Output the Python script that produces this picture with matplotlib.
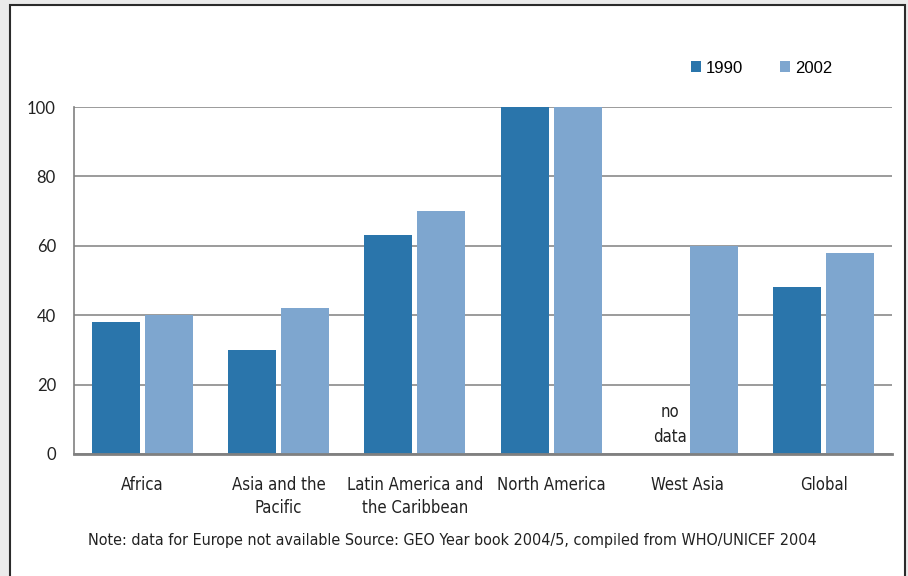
import matplotlib.pyplot as plt
import numpy as np
from matplotlib.patches import Rectangle

regions = ["Africa", "Asia and the\nPacific", "Latin America and\nthe Caribbean",
           "North America", "West Asia", "Global"]
vals_1990 = [38, 30, 63, 100, np.nan, 48]
vals_2002 = [40, 42, 70, 100, 60, 58]
y_ticks = [0, 20, 40, 60, 80, 100]
note = "Note: data for Europe not available Source: GEO Year book 2004/5, compiled from WHO/UNICEF 2004"

narrow = ['Liberation Sans Narrow', 'DejaVu Sans']

fig = plt.figure(figsize=(9.08, 5.76), dpi=100)
fig.patch.set_facecolor('#ebebeb')
# white panel with dark frame
fig.patches.append(Rectangle((10 / 908, -0.05), 895 / 908, 1 - 5 / 576 + 0.05,
                             transform=fig.transFigure, facecolor='white',
                             edgecolor='#2b2b2b', linewidth=1.5, zorder=-1))

ax = fig.add_axes([74 / 908, 1 - 454 / 576, 818 / 908, 347 / 576])
ax.set_zorder(2)
ax.set_facecolor('white')

x = np.arange(len(regions))
w = 0.352
ax.bar(x - 0.195, vals_1990, w, color='#2a75ab', label='1990', zorder=3)
ax.bar(x + 0.195, vals_2002, w, color='#7ea6cf', label='2002', zorder=3)

ax.set_xlim(-0.5, len(regions) - 0.5)
ax.set_ylim(0, 100)
ax.set_yticks(y_ticks)
ax.set_yticklabels([str(v) for v in y_ticks], fontsize=12, family='Lato', color='#222222')
ax.set_xticks(x)
ax.set_xticklabels(regions, fontsize=12, family=narrow, stretch='condensed',
                   color='#222222', linespacing=1.35)
ax.tick_params(length=0)
ax.tick_params(axis='y', pad=13)
ax.tick_params(axis='x', pad=16)
ax.yaxis.grid(True, color='#8a8a8a', linewidth=1.2, zorder=1)
ax.set_axisbelow(True)

for s in ['top', 'right']:
    ax.spines[s].set_visible(False)
ax.spines['left'].set_color('#808080')
ax.spines['left'].set_linewidth(1.2)
ax.spines['bottom'].set_color('#808080')
ax.spines['bottom'].set_linewidth(2)
ax.spines['bottom'].set_zorder(4)

# missing value note
ax.text(4 - 0.13, 8.5, "no\ndata", ha='center', va='center', fontsize=12,
        family=narrow, stretch='condensed', color='#222222', linespacing=1.5, zorder=5,
        bbox=dict(facecolor='white', edgecolor='none', pad=1))

ax.legend(loc='upper right', bbox_to_anchor=(0.935, 1.153), ncol=2, frameon=False,
          prop={'family': 'Liberation Sans', 'size': 12}, borderaxespad=0,
          handlelength=0.6, handleheight=0.6, handletextpad=0.3, columnspacing=2.2)

fig.text(88 / 908, 1 - 540 / 576, note, ha='left', va='center', fontsize=11.5,
         family=narrow, stretch='condensed', color='#222222')

fig.savefig('out.png', dpi=100, facecolor=fig.get_facecolor())
